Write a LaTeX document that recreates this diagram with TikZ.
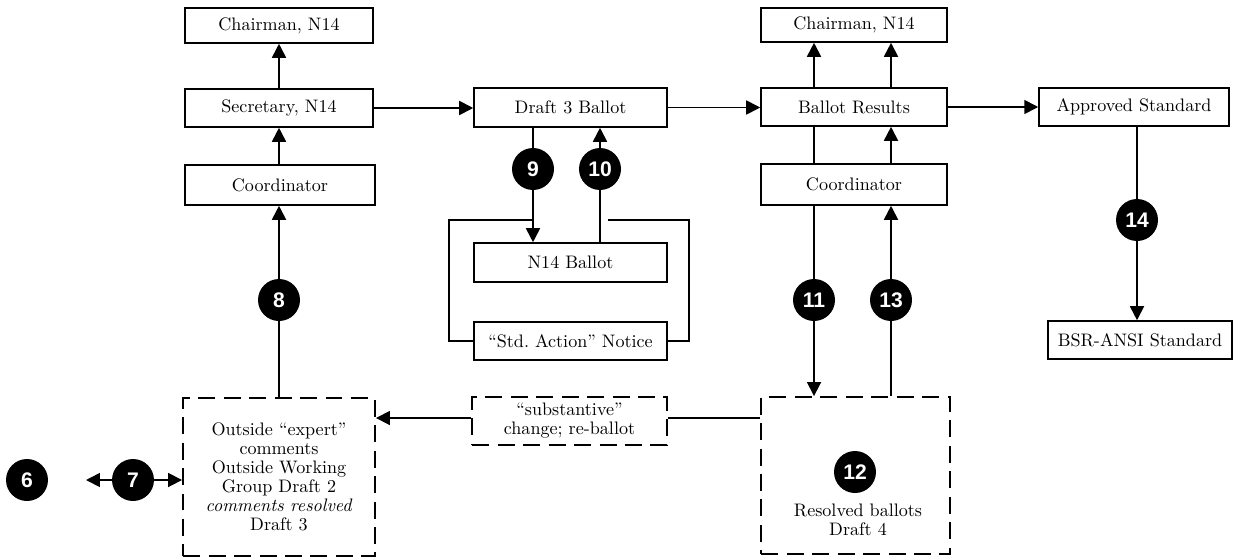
\documentclass[tikz,border=0pt]{standalone}
\usepackage{fontspec}
\newfontfamily\numfont{Liberation Sans}
\usetikzlibrary{arrows.meta}
\tikzset{
  box/.style={draw, line width=0.9pt, inner sep=1pt, font=\fontsize{10.3}{11}\selectfont},
  dbox/.style={draw, line width=1.1pt, dash pattern=on 0.34cm off 0.17cm, inner sep=2pt, align=center, font=\fontsize{10.3}{10.8}\selectfont},
  num/.style={circle, fill=black, text=white, inner sep=0pt, minimum size=0.84cm, font=\numfont\bfseries\fontsize{12}{12}\selectfont},
  conn/.style={line width=1pt},
  arr/.style={line width=1pt, -{Triangle[length=2.8mm,width=2.8mm]}},
  darr/.style={line width=1pt, {Triangle[length=2.8mm,width=2.8mm]}-{Triangle[length=2.8mm,width=2.8mm]}}
}
\begin{document}
\begin{tikzpicture}[x=0.02cm,y=-0.02cm]
\useasboundingbox (0,0) rectangle (1239,558);
% boxes
\node[box, minimum width=3.76cm, minimum height=0.70cm] (chL) at (279,25.5) {Chairman, N14};
\node[box, minimum width=3.76cm, minimum height=0.76cm] (secL) at (279,108) {Secretary, N14};
\node[box, minimum width=3.80cm, minimum height=0.80cm] (coL) at (280,185) {Coordinator};
\node[box, minimum width=3.86cm, minimum height=0.78cm] (d3) at (570.5,107.5) {Draft 3 Ballot};
\node[box, minimum width=3.86cm, minimum height=0.78cm] (n14) at (570.5,262.5) {N14 Ballot};
\node[box, minimum width=3.86cm, minimum height=0.76cm] (std) at (570.5,341) {“Std.\ Action” Notice};
\node[box, minimum width=3.72cm, minimum height=0.68cm] (chR) at (854,25) {Chairman, N14};
\node[box, minimum width=3.72cm, minimum height=0.76cm] (br) at (854,107) {Ballot Results};
\node[box, minimum width=3.72cm, minimum height=0.82cm] (coR) at (854,184.5) {Coordinator};
\node[box, minimum width=3.80cm, minimum height=0.76cm] (app) at (1134,107) {Approved Standard};
\node[box, minimum width=3.68cm, minimum height=0.76cm] (bsr) at (1140,340) {BSR-ANSI Standard};
\node[dbox, minimum width=3.84cm, minimum height=3.16cm] (outL) at (279,477)
  {Outside “expert”\\comments\\Outside Working\\Group Draft 2\\\textit{comments resolved}\\Draft 3};
\node[dbox, minimum width=3.90cm, minimum height=0.96cm] (sub) at (569.5,421)
  {“substantive”\\change; re-ballot};
\node[dbox, minimum width=3.78cm, minimum height=3.14cm] (res) at (855.5,475.5) {};
\node[align=center, font=\fontsize{10.3}{10.8}\selectfont] (restext) at (858,520) {Resolved ballots\\Draft 4};
% circle positions
\coordinate (p6) at (27,480);
\coordinate (p7) at (133,480);
\coordinate (p8) at (279,300);
\coordinate (p9) at (533,169);
\coordinate (p10) at (600,169);
\coordinate (p11) at (814,300);
\coordinate (p12) at (855,472);
\coordinate (p13) at (891,300);
\coordinate (p14) at (1137,220);
\coordinate (e6) at (86,480);
\coordinate (bl) at (449,220);
\coordinate (brk) at (689,220);
\coordinate (brs) at (608,220);
\coordinate (hy) at (0,418);
% connectors
\draw[arr] (secL.north) -- (chL.south);
\draw[arr] (coL.north -| secL.south) -- (secL.south);
\draw[arr] (p8 |- outL.north) -- (p8 |- coL.south);
\draw[arr] (secL.east) -- (d3.west |- secL.east);
\draw[arr] (d3.east) -- (br.west |- d3.east);
\draw[arr] (br.east) -- (app.west);
\draw[arr] (p9 |- d3.south) -- (p9 |- n14.north);
\draw[arr] (p10 |- n14.north) -- (p10 |- d3.south);
\draw[conn] (std.west) -| (bl) -- (bl -| p9);
\draw[conn] (std.east) -| (brk) -- (brs);
\draw[arr] (p11 |- br.north) -- (p11 |- chR.south);
\draw[arr] (p13 |- br.north) -- (p13 |- chR.south);
\draw[conn] (p11 |- br.south) -- (p11 |- coR.north);
\draw[arr] (p13 |- coR.north) -- (p13 |- br.south);
\draw[arr] (p11 |- coR.south) -- (p11 |- res.north);
\draw[arr] (p13 |- res.north) -- (p13 |- coR.south);
\draw[arr] (p14 |- app.south) -- (p14 |- bsr.north);
\draw[conn] (hy -| res.west) -- (hy -| sub.east);
\draw[arr] (hy -| sub.west) -- (hy -| outL.east);
\draw[darr] (e6) -- (outL.west |- e6);
% numbered circles
\node[num] (c6) at (p6) {6};
\node[num] (c7) at (p7) {7};
\node[num] (c8) at (p8) {8};
\node[num] (c9) at (p9) {9};
\node[num] (c10) at (p10) {10};
\node[num] (c11) at (p11) {11};
\node[num] (c12) at (p12) {12};
\node[num] (c13) at (p13) {13};
\node[num] (c14) at (p14) {14};
\end{tikzpicture}
\end{document}
